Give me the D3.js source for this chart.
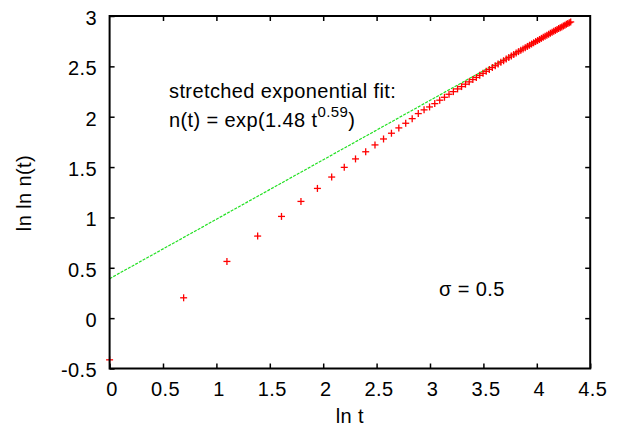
<!DOCTYPE html>
<html>
<head>
<meta charset="utf-8">
<script src="https://cdn.jsdelivr.net/npm/d3@7"></script>
<style>
  html, body { margin: 0; padding: 0; background: #fff; }
  svg text { font-family: "Liberation Sans", Arial, sans-serif; fill: #000; }
</style>
</head>
<body>
<svg id="chart" width="637" height="432"></svg>
<script>
// Time steps t = 1 .. 75
const tValues = d3.range(1, 76);

// ln ln n(t) for each time step
const lnLnN = [
  -0.414, 0.202, 0.563, 0.815, 1.010, 1.159, 1.288, 1.401, 1.497, 1.581,
  1.652, 1.720, 1.779, 1.836, 1.889, 1.935, 1.981, 2.031, 2.068, 2.097,
  2.130, 2.164, 2.193, 2.223, 2.249, 2.276, 2.299, 2.323, 2.346, 2.369,
  2.390, 2.411, 2.431, 2.451, 2.470, 2.488, 2.506, 2.524, 2.541, 2.556,
  2.573, 2.588, 2.603, 2.618, 2.632, 2.646, 2.660, 2.673, 2.685, 2.698,
  2.710, 2.722, 2.734, 2.746, 2.756, 2.767, 2.778, 2.789, 2.799, 2.809,
  2.819, 2.829, 2.838, 2.848, 2.857, 2.866, 2.875, 2.884, 2.892, 2.901,
  2.909, 2.917, 2.926, 2.934, 2.941
];

// Stretched exponential fit n(t) = exp(A t^beta)
const fitA = 1.48;
const fitBeta = 0.59;

const xTicks = [0, 0.5, 1, 1.5, 2, 2.5, 3, 3.5, 4, 4.5];
const yTicks = [-0.5, 0, 0.5, 1, 1.5, 2, 2.5, 3];

const svg = d3.select("#chart");
const plotL = 109.6, plotR = 590.2, plotT = 16, plotB = 368.5;
const fontSize = 20;
const spacing = 0.4;

const x = d3.scaleLinear().domain([0, 4.5]).range([plotL, plotR]);
const y = d3.scaleLinear().domain([-0.5, 3]).range([plotB, plotT]);

const tickLen = 5;
const fmt = d => String(d);

// Axes with inward ticks, mirrored on top and right
const gB = svg.append("g").attr("transform", `translate(0,${plotB})`)
  .call(d3.axisBottom(x).tickValues(xTicks).tickSizeInner(-tickLen).tickSizeOuter(0).tickPadding(14)
    .tickFormat(fmt));
const gT = svg.append("g").attr("transform", `translate(0,${plotT})`)
  .call(d3.axisTop(x).tickValues(xTicks.slice(1, -1)).tickSizeInner(-tickLen).tickSizeOuter(0).tickFormat(""));
const gL = svg.append("g").attr("transform", `translate(${plotL},0)`)
  .call(d3.axisLeft(y).tickValues(yTicks).tickSizeInner(-tickLen).tickSizeOuter(0).tickPadding(12.5)
    .tickFormat(fmt));
const gR = svg.append("g").attr("transform", `translate(${plotR},0)`)
  .call(d3.axisRight(y).tickValues(yTicks.slice(1, -1)).tickSizeInner(-tickLen).tickSizeOuter(0).tickFormat(""));

[gB, gT, gL, gR].forEach(g => {
  g.select(".domain").remove();
  g.selectAll(".tick line").attr("stroke", "#000").attr("stroke-width", 1.5);
  g.selectAll("text").attr("font-size", fontSize).attr("letter-spacing", spacing)
    .attr("font-family", "Liberation Sans, Arial, sans-serif");
});
gB.selectAll("text").attr("dy", "0.68em").attr("dx", 2);
gL.selectAll("text").attr("dy", "0.42em");

// Fit line over the data range
const fitLine = d3.line().x(d => x(d)).y(d => y(Math.log(fitA) + fitBeta * d));
const lnTMax = Math.log(d3.max(tValues));
svg.append("path")
  .datum([0, lnTMax])
  .attr("d", fitLine)
  .attr("fill", "none")
  .attr("stroke", "#22e022")
  .attr("stroke-width", 1.2)
  .attr("stroke-dasharray", "3,1.2");

// Data points as plus markers
const pts = svg.append("g").attr("stroke", "#ff0000").attr("stroke-width", 1.3);
const arm = 3.5;
tValues.forEach((t, i) => {
  const px = x(Math.log(t)), py = y(lnLnN[i]);
  pts.append("line").attr("x1", px - arm).attr("x2", px + arm).attr("y1", py).attr("y2", py);
  pts.append("line").attr("x1", px).attr("x2", px).attr("y1", py - arm).attr("y2", py + arm);
});

// Frame
svg.append("rect")
  .attr("x", plotL).attr("y", plotT)
  .attr("width", plotR - plotL).attr("height", plotB - plotT)
  .attr("fill", "none").attr("stroke", "#000").attr("stroke-width", 2);

// Axis titles
svg.append("text").attr("x", (plotL + plotR) / 2).attr("y", 423)
  .attr("text-anchor", "middle").attr("font-size", fontSize).attr("letter-spacing", spacing).text("ln t");
svg.append("text")
  .attr("transform", "translate(31,193) rotate(-90)")
  .attr("text-anchor", "middle").attr("font-size", fontSize).attr("letter-spacing", spacing).text("ln ln n(t)");

// Annotations
svg.append("text").attr("x", 169).attr("y", 98).attr("font-size", fontSize).attr("letter-spacing", spacing)
  .text("stretched exponential fit:");
const f = svg.append("text").attr("x", 169).attr("y", 127).attr("font-size", fontSize).attr("letter-spacing", spacing);
f.append("tspan").text("n(t) = exp(" + fitA.toFixed(2) + " t");
f.append("tspan").attr("dy", -10.5).attr("font-size", 15).text(fitBeta.toFixed(2));
f.append("tspan").attr("dy", 10.5).text(")");

svg.append("text").attr("x", 439).attr("y", 296).attr("font-size", fontSize).attr("letter-spacing", spacing)
  .text("\u03c3 = 0.5");
</script>
</body>
</html>
